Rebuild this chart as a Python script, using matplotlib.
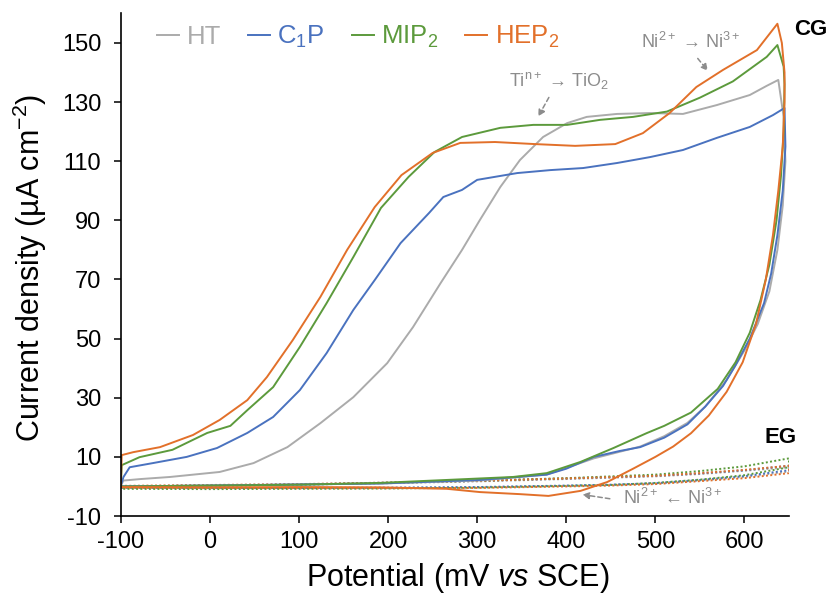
import numpy as np
import matplotlib.pyplot as plt

plt.rcParams['font.family'] = ['Liberation Sans', 'DejaVu Sans']
plt.rcParams['mathtext.fontset'] = 'custom'
plt.rcParams['mathtext.rm'] = 'Liberation Sans'
plt.rcParams['mathtext.it'] = 'Liberation Sans:italic'
plt.rcParams['mathtext.bf'] = 'Liberation Sans:bold'
plt.rcParams['axes.unicode_minus'] = False

# CG curves, forward scan (mV, uA cm-2)
ht_fx = [-100, -97, -78, -45, 11, 49, 87, 124, 161, 199, 228, 259, 283, 303, 326, 348, 374, 401, 423, 457, 494, 531, 569, 606, 625, 638]
ht_fy = [0.3, 2.0, 2.5, 3.2, 4.9, 7.9, 13.3, 21.4, 30.2, 41.7, 53.9, 68.8, 80.0, 90.1, 101.3, 110.4, 118.2, 122.9, 125.0, 126.0, 126.3, 126.0, 129.0, 132.4, 135.5, 137.5]
c1p_fx = [-100, -97, -90, -64, -26, 8, 42, 71, 101, 131, 161, 185, 214, 246, 262, 283, 300, 345, 382, 419, 457, 494, 531, 569, 606, 632, 645]
c1p_fy = [0.3, 3.2, 6.5, 7.9, 10.0, 13.0, 18.1, 23.5, 32.6, 45.1, 59.7, 69.8, 82.3, 92.5, 97.9, 100.3, 103.7, 106.0, 107.0, 107.7, 109.4, 111.4, 113.8, 117.9, 121.6, 125.6, 128.0]
mip_fx = [-100, -99, -79, -42, -3, 23, 42, 71, 101, 131, 161, 192, 223, 252, 283, 326, 363, 401, 438, 475, 513, 550, 587, 625, 637]
mip_fy = [0.3, 7.2, 9.9, 12.4, 18.1, 20.5, 25.8, 33.6, 47.2, 62.0, 77.6, 94.2, 104.7, 113.1, 118.2, 121.3, 122.3, 122.3, 124.0, 125.0, 126.8, 131.5, 137.0, 145.3, 149.3]
hep_fx = [-100, -99, -86, -56, -19, 11, 42, 64, 93, 124, 154, 185, 215, 250, 281, 320, 365, 410, 455, 486, 516, 546, 576, 614, 637]
hep_fy = [0.3, 10.6, 11.6, 13.3, 17.4, 22.5, 29.2, 37.0, 49.5, 64.1, 80.0, 94.5, 105.3, 112.8, 116.2, 116.5, 115.8, 115.2, 115.8, 119.5, 126.3, 135.1, 140.9, 147.6, 156.5]

# CG curves, reverse scan
ht_rx = [638, 644, 646, 643, 637, 628, 615, 600, 580, 556, 536, 510, 483, 431, 378, 303, 191, 0, -100]
ht_ry = [137.5, 125, 110, 95, 80, 66, 55, 46, 36, 27, 21.5, 17, 13.5, 9.5, 4.0, 2.0, 1.0, 0.3, 0.0]
c1p_rx = [645, 646, 643, 637, 630, 622, 606, 590, 576, 556, 536, 510, 483, 460, 431, 400, 378, 303, 191, 0, -100]
c1p_ry = [128, 115, 100, 85, 72, 62, 50, 41, 34, 27, 21, 16.5, 13.3, 12, 10, 6, 4, 2.2, 1.0, 0.3, 0.0]
mip_rx = [637, 644, 645, 644, 641, 636, 628, 618, 606, 590, 570, 540, 510, 490, 453, 416, 378, 340, 266, 191, 100, 0, -100]
mip_ry = [149.3, 142, 136, 120, 105, 90, 75, 63, 52, 42, 33, 25, 20.5, 18, 13, 8.3, 4.5, 3.2, 2.2, 1.2, 0.6, 0.3, 0.0]
hep_rx = [637, 642, 645, 645, 643, 638, 632, 624, 613, 598, 580, 560, 540, 520, 500, 475, 446, 416, 380, 348, 303, 266, 191, 100, 0, -100]
hep_ry = [156.5, 150, 140, 130, 115, 100, 85, 70, 55, 42, 32, 24, 18, 13.5, 10, 6, 1.5, -1.5, -3.2, -2.6, -1.9, -0.8, -0.3, -0.2, -0.3, -0.2]

# EG curves (dotted), upper and lower branches
eg_ux = [-100, 0, 100, 200, 300, 400, 500, 550, 600, 650]
eg_lx = [650, 600, 550, 500, 450, 400, 300, 200, 100, 0, -100]
ht_eu = [0.0, 0.3, 0.6, 1.1, 1.7, 2.5, 3.4, 4.2, 5.3, 6.5]
ht_el = [5.0, 3.2, 2.0, 1.0, 0.5, 0.2, -0.3, -0.5, -0.5, -0.6, -0.5]
c1p_eu = [0.0, 0.4, 0.7, 1.3, 1.9, 2.7, 3.6, 4.4, 5.5, 7.0]
c1p_el = [5.5, 3.5, 2.2, 1.1, 0.6, 0.3, -0.2, -0.4, -0.5, -0.5, -0.4]
mip_eu = [-0.3, 0.2, 0.6, 1.2, 1.9, 2.8, 4.0, 5.2, 6.8, 9.5]
mip_el = [6.5, 3.8, 2.3, 1.2, 0.5, 0.2, -0.4, -0.7, -0.8, -0.9, -0.8]
hep_eu = [0.2, 0.5, 0.8, 1.3, 1.9, 2.7, 3.6, 4.5, 5.6, 7.0]
hep_el = [4.5, 2.8, 1.8, 0.8, 0.3, 0.0, -0.5, -0.6, -0.6, -0.5, -0.4]

labels = ['HT', 'C$_1$P', 'MIP$_2$', 'HEP$_2$']
colors = ['#ABABAB', '#4A72BF', '#5C9A3C', '#E2702A']

fig = plt.figure(figsize=(8.32, 5.96), dpi=100)
ax = fig.add_axes([0.1452, 0.1342, 0.8031, 0.8433])

cg = [(ht_fx, ht_fy, ht_rx, ht_ry), (c1p_fx, c1p_fy, c1p_rx, c1p_ry),
      (mip_fx, mip_fy, mip_rx, mip_ry), (hep_fx, hep_fy, hep_rx, hep_ry)]
eg = [(ht_eu, ht_el), (c1p_eu, c1p_el), (mip_eu, mip_el), (hep_eu, hep_el)]

# EG first (behind)
for (eu, el), c in zip(eg, colors):
    ax.plot(eg_ux + eg_lx, eu + el, color=c, lw=1.4, linestyle=(0, (1, 1.2)))

handles = []
for (fx, fy, rx, ry), c, lab in zip(cg, colors, labels):
    h, = ax.plot(fx + rx, fy + ry, color=c, lw=1.4, label=lab)
    handles.append(h)

ax.set_xlim(-100, 650)
ax.set_ylim(-10, 160)
ax.set_xticks(np.arange(-100, 601, 100))
ax.set_yticks(np.arange(-10, 151, 20))
for s in ['top', 'right']:
    ax.spines[s].set_visible(False)
for s in ['left', 'bottom']:
    ax.spines[s].set_linewidth(1.2)
ax.tick_params(direction='out', length=5, width=1.1, labelsize=17)
ax.tick_params(axis='y', pad=9)
ax.tick_params(axis='x', pad=6)

ax.set_xlabel('Potential (mV $\\it{vs}$ SCE)', fontsize=22, va='center')
ax.xaxis.set_label_coords(0.505, -0.123)
ax.set_ylabel('Current density (µA cm$^{-2}$)', fontsize=22, va='center')
ax.yaxis.set_label_coords(-0.136, 0.493)

leg = ax.legend(handles=handles, ncol=4, loc='center left', bbox_to_anchor=(0.035, 0.953),
                frameon=False, fontsize=18.5, handlelength=0.85, handletextpad=0.3,
                columnspacing=1.05, borderpad=0, labelcolor='linecolor')

gray = '#8C8C8C'
ax.text(392, 137, 'Ti$^{\\mathrm{n}+}$ → TiO$_2$', color=gray, fontsize=13, ha='center', va='center')
ax.text(540, 150.5, 'Ni$^{2+}$ → Ni$^{3+}$', color=gray, fontsize=13, ha='center', va='center')
ax.text(519, -4, 'Ni$^{2+}$ ← Ni$^{3+}$', color=gray, fontsize=13, ha='center', va='center')
arrow = dict(arrowstyle='-|>', linestyle=(0, (3, 2)), color=gray, lw=1.1, mutation_scale=10)
ax.annotate('', xy=(367, 124.3), xytext=(382, 132.4), arrowprops=arrow)
ax.annotate('', xy=(561, 139.8), xytext=(545.6, 145.5), arrowprops=arrow)
ax.annotate('', xy=(415, -2.6), xytext=(452, -4.3), arrowprops=arrow)

ax.text(656, 154.4, 'CG', fontsize=16, fontweight='bold', ha='left', va='center', clip_on=False)
ax.text(622, 16.7, 'EG', fontsize=16, fontweight='bold', ha='left', va='center')

fig.savefig('out.png', dpi=100)
